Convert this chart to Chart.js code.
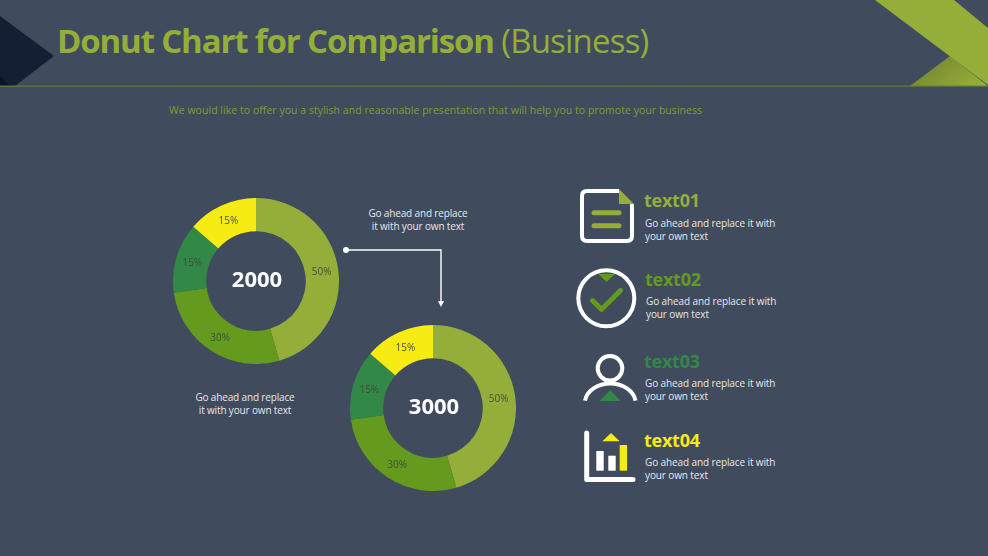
<!DOCTYPE html>
<html>
<head>
<meta charset="utf-8">
<title>Donut Chart for Comparison</title>
<script src="https://cdn.jsdelivr.net/npm/chart.js@4"></script>
<style>
  html, body { margin: 0; padding: 0; background: #414b5e; }
  #page { position: relative; width: 988px; height: 556px; overflow: hidden; background: #414b5e; font-family: "Open Sans", sans-serif; }
  #art { position: absolute; left: 0; top: 0; }
  canvas { position: absolute; }
  .t { position: absolute; white-space: nowrap; }
  #title { left: 57px; top: 18px; font-size: 33px; line-height: 46px; color: #94ae39; font-weight: 700; letter-spacing: -1.15px; }
  #title span { font-weight: 400; letter-spacing: -0.8px; }
  #sub { left: 169px; top: 102px; font-size: 10.5px; line-height: 16px; color: #7f9d36; letter-spacing: 0.04px; }
  .note { color: #e6e8ea; font-size: 10px; line-height: 13px; text-align: center; letter-spacing: -0.15px; }
  .head { font-size: 18px; line-height: 22px; font-weight: 700; letter-spacing: -0.25px; }
  .body { color: #e6e8ea; font-size: 10px; line-height: 13px; letter-spacing: -0.11px; }
</style>
</head>
<body>
<div id="page">
  <svg id="art" width="988" height="556">
    <defs>
      <linearGradient id="fold" x1="950" y1="56" x2="975" y2="86" gradientUnits="userSpaceOnUse">
        <stop offset="0" stop-color="#7d9033"/>
        <stop offset="1" stop-color="#94ae39"/>
      </linearGradient>
    </defs>
    <!-- header shapes -->
    <polygon points="0,16 54,56 15,86 0,86" fill="#141f33"/>
    <polygon points="0,76 10,86 0,86" fill="#0b1222"/>
    <polygon points="950,56 910,86 988,86" fill="url(#fold)"/>
    <polygon points="875,0 954,0 988,28 988,85" fill="#94ae39"/>
    <rect x="0" y="85.5" width="988" height="1.2" fill="#5f7f38"/>

    <!-- arrow between the two donuts -->
    <circle cx="346" cy="250" r="3" fill="#fff"/>
    <polyline points="346,250 441,250 441,302" fill="none" stroke="#fff" stroke-width="1.4"/>
    <polygon points="438,301 444,301 441,307" fill="#fff"/>

    <!-- icon 1: document -->
    <path d="M619 191 H587 Q582 191 582 196 V236 Q582 241 587 241 H627 Q632 241 632 236 V204" fill="none" stroke="#fff" stroke-width="4"/>
    <polygon points="619,189 634,204 619,204" fill="#94ae39"/>
    <path d="M594 212.7 H619 M594 225.7 H619" stroke="#94ae39" stroke-width="5" stroke-linecap="round"/>

    <!-- icon 2: check -->
    <circle cx="606.3" cy="298.3" r="28" fill="none" stroke="#fff" stroke-width="4"/>
    <polygon points="598.3,274 615,274 606.6,282" fill="#649a1e"/>
    <polyline points="592.5,300.7 601.7,309.3 620.5,290.5" fill="none" stroke="#649a1e" stroke-width="5" stroke-linecap="round" stroke-linejoin="round"/>

    <!-- icon 3: person -->
    <circle cx="610" cy="368.3" r="12.3" fill="none" stroke="#fff" stroke-width="4"/>
    <path d="M585 400.7 A25.5 20 0 0 1 635.5 400.7" fill="none" stroke="#fff" stroke-width="4"/>
    <polygon points="599.7,401 620.7,401 610,390" fill="#318847"/>

    <!-- icon 4: bars -->
    <polyline points="586.7,433 586.7,479.5 633,479.5" fill="none" stroke="#fff" stroke-width="5" stroke-linecap="round" stroke-linejoin="round"/>
    <rect x="596.3" y="451" width="7.4" height="19.7" fill="#fff"/>
    <rect x="608.3" y="455.7" width="7.4" height="15" fill="#fff"/>
    <rect x="619.7" y="445" width="7.4" height="25.7" fill="#f6ec13"/>
    <polygon points="602.3,441.3 619.7,441.3 611,433" fill="#f6ec13"/>
  </svg>

  <div class="t" id="title">Donut Chart for Comparison <span>(Business)</span></div>
  <div class="t" id="sub">We would like to offer you a stylish and reasonable presentation that will help you to promote your business</div>

  <canvas id="donutA" width="166" height="166" style="left:172.7px;top:197.7px;width:166px;height:166px"></canvas>
  <canvas id="donutB" width="166" height="166" style="left:349.8px;top:325px;width:166px;height:166px"></canvas>

  <div class="t note" style="left:345px;top:207px;width:146px">Go ahead and replace<br>it with your own text</div>
  <div class="t note" style="left:172px;top:391px;width:146px">Go ahead and replace<br>it with your own text</div>

  <div id="legend"></div>
</div>

<script>
const categories = ['text01', 'text02', 'text03', 'text04'];
const valuesA = [50, 30, 15, 15];
const valuesB = [50, 30, 15, 15];
const totalA = '2000';
const totalB = '3000';
const sliceColors = ['#94ae39', '#649a1e', '#318847', '#f6ec13'];
const legendBody = ['Go ahead and replace it with', 'your own text'];
const headTops = [189, 268, 350, 429];
const bodyTops = [217, 295, 377, 456];
const legendLefts = [644, 645, 644, 644];

// percent labels on each slice and the total in the hole
const donutText = {
  id: 'donutText',
  afterDatasetsDraw(chart, args, opts) {
    const c = chart.ctx;
    const meta = chart.getDatasetMeta(0);
    c.save();
    c.textAlign = 'center';
    c.textBaseline = 'middle';
    c.fillStyle = '#3f5138';
    c.font = '10px "Open Sans"';
    meta.data.forEach((arc, i) => {
      const p = arc.getCenterPoint();
      c.fillText(chart.data.datasets[0].data[i] + '%', p.x, p.y + 1);
    });
    c.fillStyle = '#ffffff';
    c.font = 'bold 22px "Open Sans"';
    c.fillText(opts.total, meta.data[0].x + 1, meta.data[0].y);
    c.restore();
  }
};

function makeDonut(id, values, total) {
  new Chart(document.getElementById(id), {
    type: 'doughnut',
    data: {
      labels: categories,
      datasets: [{ data: values, backgroundColor: sliceColors, borderWidth: 0, hoverOffset: 0 }]
    },
    options: {
      responsive: false,
      animation: false,
      cutout: '60%',
      layout: { padding: 0 },
      events: [],
      plugins: {
        legend: { display: false },
        tooltip: { enabled: false },
        donutText: { total: total }
      }
    },
    plugins: [donutText]
  });
}

makeDonut('donutA', valuesA, totalA);
makeDonut('donutB', valuesB, totalB);

// right hand list
const legend = document.getElementById('legend');
categories.forEach((name, i) => {
  const left = legendLefts[i];
  legend.insertAdjacentHTML('beforeend',
    `<div class="t head" style="left:${left}px;top:${headTops[i]}px;color:${sliceColors[i]}">${name}</div>` +
    `<div class="t body" style="left:${left + 1}px;top:${bodyTops[i]}px">${legendBody[0]}<br>${legendBody[1]}</div>`);
});
</script>
</body>
</html>
